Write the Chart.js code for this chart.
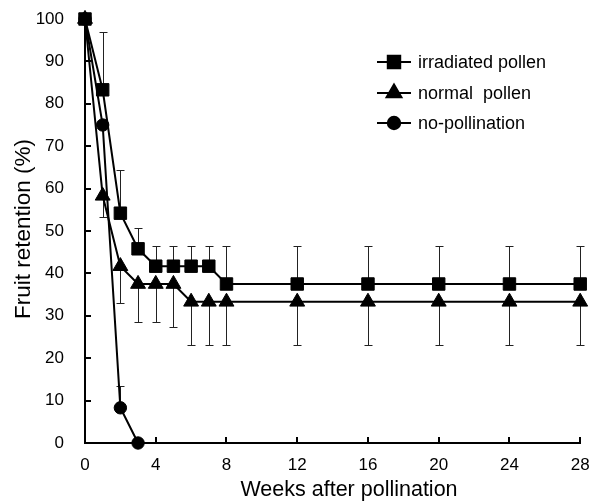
<!DOCTYPE html>
<html>
<head>
<meta charset="utf-8">
<script src="https://cdn.jsdelivr.net/npm/chart.js@4/dist/chart.umd.min.js"></script>
<style>
  html, body { margin: 0; padding: 0; background: #fff; }
  #wrap { width: 590px; height: 501px; position: relative; }
</style>
</head>
<body>
<div id="wrap"><canvas id="c" width="590" height="501"></canvas></div>
<script>
// ---- data ----
const weeks = [0, 1, 2, 3, 4, 5, 6, 7, 8, 12, 16, 20, 24, 28];
const irradiated = [100, 83.3, 54.2, 45.8, 41.7, 41.7, 41.7, 41.7, 37.5, 37.5, 37.5, 37.5, 37.5, 37.5];
const irradiatedErrUp = [0, 13.6, 10.3, 5.0, 4.8, 4.8, 4.8, 4.8, 9.0, 9.0, 9.0, 9.0, 9.0, 9.0];
const normal = [100, 58.3, 41.7, 37.5, 37.5, 37.5, 33.3, 33.3, 33.3, 33.3, 33.3, 33.3, 33.3, 33.3];
const normalErrDown = [0, 5.0, 8.7, 8.9, 8.9, 10.2, 10.2, 10.2, 10.2, 10.2, 10.2, 10.2, 10.2, 10.2];
const noPollination = [100, 75.0, 8.3, 0, null, null, null, null, null, null, null, null, null, null];
const noPollinationErrUp = [0, 0, 5.1, 0, null, null, null, null, null, null, null, null, null, null];
const xTicks = [0, 4, 8, 12, 16, 20, 24, 28];
const yTicks = [0, 10, 20, 30, 40, 50, 60, 70, 80, 90, 100];
const seriesNames = ['irradiated pollen', 'normal  pollen', 'no-pollination'];
const xTitle = 'Weeks after pollination';
const yTitle = 'Fruit retention (%)';

const FONT = "'Liberation Sans', Arial, sans-serif";
const pts = arr => weeks.map((w, i) => ({ x: w, y: arr[i] })).filter(p => p.y !== null);

const styles = [
  { pointStyle: 'rect', radius: 8.8 },
  { pointStyle: 'triangle', radius: 8.6 },
  { pointStyle: 'circle', radius: 6.2 }
];

const errorBars = [
  { data: irradiated, err: irradiatedErrUp, dir: 1 },
  { data: normal, err: normalErrDown, dir: -1 },
  { data: noPollination, err: noPollinationErrUp, dir: 1 }
];

const customPlugin = {
  id: 'custom',
  beforeDatasetsDraw(chart) {
    const ctx = chart.ctx;
    const xs = chart.scales.x, ys = chart.scales.y;
    ctx.save();
    ctx.strokeStyle = '#222';
    ctx.lineWidth = 1;
    errorBars.forEach(eb => {
      weeks.forEach((w, i) => {
        const v = eb.data[i], e = eb.err[i];
        if (v === null || !e) return;
        const px = Math.round(xs.getPixelForValue(w)) + 0.5;
        const y0 = ys.getPixelForValue(v);
        const y1 = Math.round(ys.getPixelForValue(v + eb.dir * e)) + 0.5;
        ctx.beginPath();
        ctx.moveTo(px, y0); ctx.lineTo(px, y1);
        ctx.moveTo(px - 4, y1); ctx.lineTo(px + 4, y1);
        ctx.stroke();
      });
    });
    ctx.restore();
  },
  afterDraw(chart) {
    const ctx = chart.ctx;
    const xs = chart.scales.x, ys = chart.scales.y;
    const area = chart.chartArea;
    ctx.save();
    // inward tick marks
    ctx.strokeStyle = '#000';
    ctx.lineWidth = 2;
    ctx.beginPath();
    xTicks.forEach(t => {
      const px = Math.round(xs.getPixelForValue(t));
      ctx.moveTo(px, area.bottom); ctx.lineTo(px, area.bottom - 6);
    });
    yTicks.forEach(t => {
      const py = Math.round(ys.getPixelForValue(t));
      ctx.moveTo(area.left, py); ctx.lineTo(area.left + 6, py);
    });
    ctx.stroke();

    // axis titles
    ctx.fillStyle = '#000';
    ctx.textAlign = 'center';
    ctx.textBaseline = 'middle';
    ctx.font = '21.5px ' + FONT;
    ctx.fillText(xTitle, 349, 490);
    ctx.save();
    ctx.translate(24, 229);
    ctx.rotate(-Math.PI / 2);
    ctx.font = '22.5px ' + FONT;
    ctx.fillText(yTitle, 0, 0);
    ctx.restore();

    // legend
    const lx0 = 377, lx1 = 411, mx = 394, tx = 418;
    const rows = [62, 93, 123];
    ctx.font = '18px ' + FONT;
    ctx.textAlign = 'left';
    ctx.textBaseline = 'middle';
    ctx.fillStyle = '#000';
    rows.forEach((ry, i) => {
      ctx.beginPath();
      ctx.lineWidth = 2;
      ctx.moveTo(lx0, ry); ctx.lineTo(lx1, ry);
      ctx.stroke();
      Chart.helpers.drawPoint(ctx, {
        pointStyle: styles[i].pointStyle,
        radius: styles[i].radius,
        rotation: 0,
        borderWidth: 1
      }, mx, ry);
      ctx.fill();
      ctx.fillText(seriesNames[i], tx, ry + 1);
    });
    ctx.restore();
  }
};

const datasets = [irradiated, normal, noPollination].map((arr, i) => ({
  label: seriesNames[i],
  data: pts(arr),
  borderColor: '#000',
  backgroundColor: '#000',
  borderWidth: 2,
  pointStyle: styles[i].pointStyle,
  pointRadius: styles[i].radius,
  pointBorderWidth: 1,
  pointBackgroundColor: '#000',
  pointBorderColor: '#000',
  tension: 0,
  clip: false,
  spanGaps: false
}));

new Chart(document.getElementById('c'), {
  type: 'line',
  data: { datasets },
  options: {
    responsive: false,
    animation: false,
    events: [],
    layout: { padding: { left: 0, right: 7, top: 19, bottom: 0 } },
    plugins: { legend: { display: false }, tooltip: { enabled: false } },
    scales: {
      x: {
        type: 'linear',
        min: 0, max: 28,
        afterBuildTicks: s => { s.ticks = xTicks.map(v => ({ value: v })); },
        afterFit: s => { s.height = 58; s.paddingLeft = 0; s.paddingRight = 0; },
        grid: { display: false },
        border: { display: true, color: '#000', width: 2 },
        ticks: { color: '#000', font: { family: FONT, size: 17 }, padding: 4, maxRotation: 0, autoSkip: false }
      },
      y: {
        type: 'linear',
        min: 0, max: 100,
        afterBuildTicks: s => { s.ticks = yTicks.map(v => ({ value: v })); },
        afterFit: s => { s.width = 85; s.paddingTop = 0; s.paddingBottom = 0; },
        grid: { display: false },
        border: { display: true, color: '#000', width: 2 },
        ticks: { color: '#000', font: { family: FONT, size: 17 }, padding: 13 }
      }
    }
  },
  plugins: [customPlugin]
});
</script>
</body>
</html>
